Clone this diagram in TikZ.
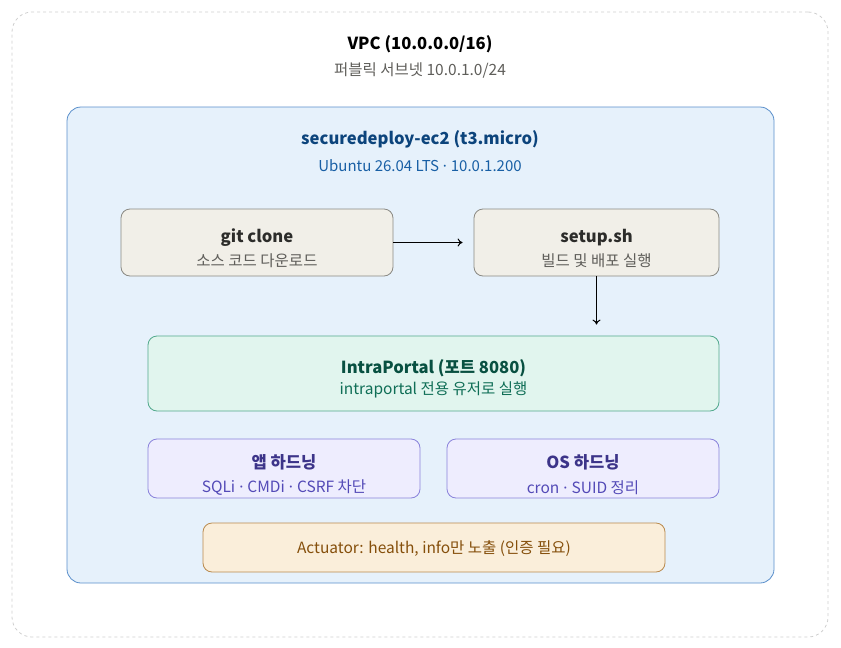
\documentclass[tikz,border=0pt]{standalone}
\usepackage{fontspec}
\setmainfont{Noto Sans CJK KR}
\newfontfamily\latin{Noto Sans}
\usepackage{tikz}
\usetikzlibrary{arrows.meta}
\usetikzlibrary{positioning}

\definecolor{vpcline}{HTML}{CFCFCF}
\definecolor{vpcsub}{HTML}{5F5E5A}
\definecolor{ecfill}{HTML}{E6F1FB}
\definecolor{ecline}{HTML}{5A8FCB}
\definecolor{ectitle}{HTML}{0C447C}
\definecolor{ecsub}{HTML}{185FA5}
\definecolor{grayfill}{HTML}{F1EFE8}
\definecolor{grayline}{HTML}{8A8983}
\definecolor{graytitle}{HTML}{2C2C2A}
\definecolor{graysub}{HTML}{5F5E5A}
\definecolor{tealfill}{HTML}{E1F5EE}
\definecolor{tealline}{HTML}{52A98C}
\definecolor{tealtitle}{HTML}{085041}
\definecolor{tealsub}{HTML}{0F6E56}
\definecolor{purpfill}{HTML}{EEEDFE}
\definecolor{purpline}{HTML}{8A82DB}
\definecolor{purptitle}{HTML}{3C3489}
\definecolor{purpsub}{HTML}{534AB7}
\definecolor{ambfill}{HTML}{FAEEDA}
\definecolor{ambline}{HTML}{B98A4E}
\definecolor{ambtext}{HTML}{854F0B}

\tikzstyle{box} = [rectangle, rounded corners=9pt, line width=0.8pt, inner sep=0pt]
\tikzstyle{graybox} = [box, fill=grayfill, draw=grayline]
\tikzstyle{tealbox} = [box, fill=tealfill, draw=tealline]
\tikzstyle{purpbox} = [box, fill=purpfill, draw=purpline]
\tikzstyle{ambbox} = [box, fill=ambfill, draw=ambline]
\tikzstyle{head} = [font=\fontsize{16.6}{19}\selectfont\bfseries, inner sep=0pt]
\tikzstyle{sub} = [font=\fontsize{15.5}{18}\selectfont, inner sep=0pt]
\tikzstyle{arrow} = [line width=1pt, -{To[length=5pt,width=8pt]}, shorten >=11pt]
\newcommand{\mdot}{{\latin\ ·\ }}

\begin{document}
\begin{tikzpicture}[x=1pt, y=-1pt]

\useasboundingbox (0,0) rectangle (841,648);

% VPC
\node (vpc) [rectangle, rounded corners=20pt, draw=vpcline, dashed, line width=0.8pt,
  minimum width=816pt, minimum height=625pt] at (420,324.5) {};
\node (vpct) [head, text=black] at (420,44) {VPC (10.0.0.0/16)};
\node (vpcs) [sub, text=vpcsub] at (420,70) {퍼블릭 서브넷 10.0.1.0/24};

% EC2 instance
\node (ec2) [box, rounded corners=14pt, fill=ecfill, draw=ecline,
  minimum width=707pt, minimum height=476pt] at (420.5,345) {};
\node (ec2t) [head, text=ectitle] at (420,139.5) {securedeploy-ec2 (t3.micro)};
\node (ec2s) [sub, font=\fontsize{15}{17}\selectfont, text=ecsub] at (420,166) {Ubuntu 26.04 LTS\mdot 10.0.1.200};

% deploy steps
\node (git) [graybox, minimum width=272pt, minimum height=67pt] at (257,242.5) {};
\node (gitt) [head, text=graytitle] at ([yshift=5pt]git.center) {git clone};
\node (gits) [sub, text=graysub] at ([yshift=-18.5pt]git.center) {소스 코드 다운로드};

\node (setup) [graybox, minimum width=245pt, minimum height=67pt] at (596.5,242.5) {};
\node (setupt) [head, text=graytitle] at ([yshift=5pt]setup.center) {setup.sh};
\node (setups) [sub, text=graysub] at ([yshift=-18.5pt]setup.center) {빌드 및 배포 실행};

\node (portal) [tealbox, minimum width=571pt, minimum height=75pt] at (433.5,373.5) {};
\node (portalt) [head, text=tealtitle] at ([yshift=5.5pt]portal.center) {IntraPortal (포트 8080)};
\node (portals) [sub, text=tealsub] at ([yshift=-16.5pt]portal.center) {intraportal 전용 유저로 실행};

% hardening
\node (app) [purpbox, minimum width=272pt, minimum height=59pt] at (284,468.5) {};
\node (appt) [head, text=purptitle] at ([yshift=6pt]app.center) {앱 하드닝};
\node (apps) [sub, text=purpsub] at ([yshift=-19pt]app.center) {SQLi\mdot CMDi\mdot CSRF 차단};

\node (os) [purpbox, minimum width=272pt, minimum height=59pt] at (583,468.5) {};
\node (ost) [head, text=purptitle] at ([yshift=6pt]os.center) {OS 하드닝};
\node (oss) [sub, text=purpsub] at ([yshift=-19pt]os.center) {cron\mdot SUID 정리};

\node (act) [ambbox, minimum width=462pt, minimum height=49pt] at (434,547.5) {};
\node (actt) [sub, text=ambtext] at ([yshift=-1.5pt]act.center) {Actuator: health, info만 노출 (인증 필요)};

\draw [arrow] (git.east) -- (setup.west);
\draw [arrow] (setup.south) -- (portal.north -| setup.south);

\end{tikzpicture}
\end{document}
